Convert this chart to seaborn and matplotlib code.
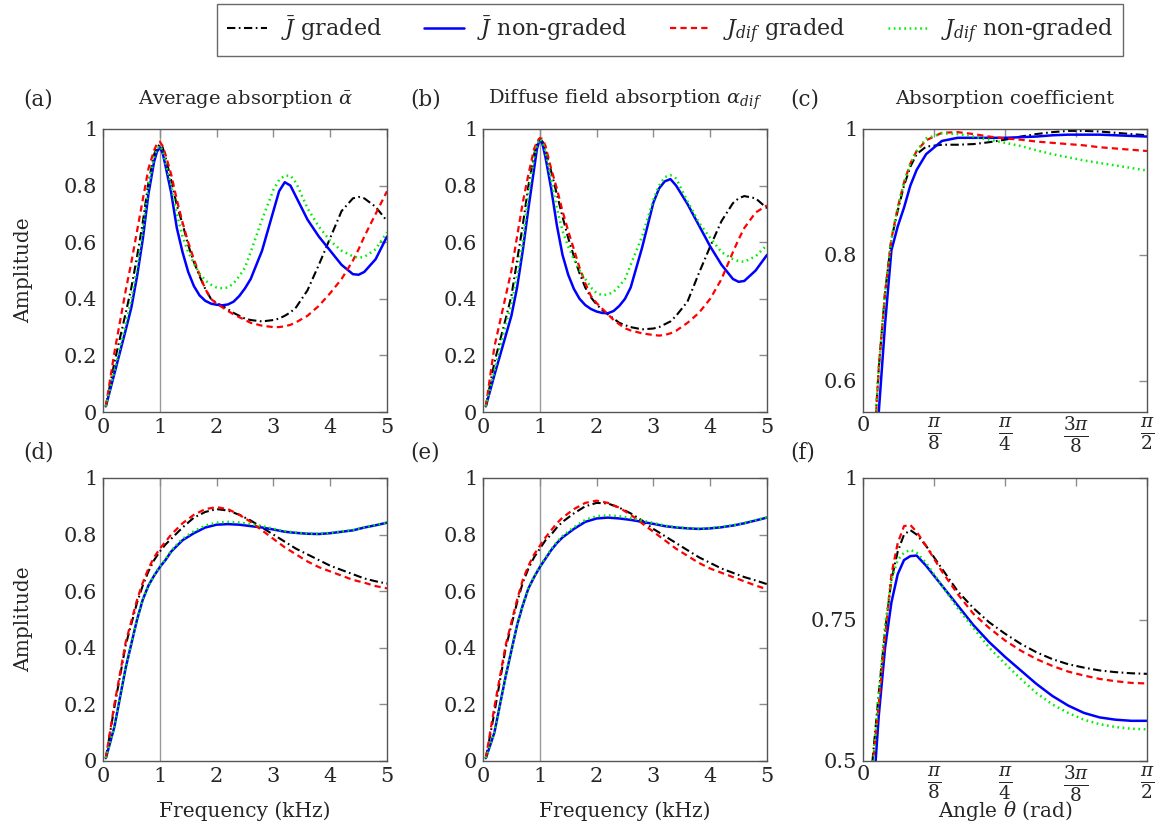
import matplotlib
matplotlib.use("Agg")
import matplotlib.pyplot as plt
import numpy as np
import seaborn as sns

# frequency grid (kHz) for panels a, b (denser around the resonances)
freq_ab = [0.05, 0.2, 0.4, 0.5, 0.6, 0.7, 0.8, 0.9, 0.95, 1.0, 1.05, 1.1, 1.2, 1.3, 1.4, 1.5, 1.6, 1.7, 1.8, 1.9, 2.0,
           2.1, 2.2, 2.3, 2.4, 2.5, 2.6, 2.8, 3.0, 3.1, 3.2, 3.3, 3.4, 3.6, 3.8, 4.0, 4.2, 4.4, 4.5, 4.6, 4.8, 5.0]

# (a) average absorption
a_jbar_graded = [0.02, 0.175, 0.35, 0.44, 0.55, 0.67, 0.81, 0.91, 0.935, 0.945, 0.935, 0.90, 0.82, 0.73, 0.665, 0.59,
                 0.53, 0.48, 0.435, 0.40, 0.385, 0.375, 0.363, 0.35, 0.34, 0.33, 0.325, 0.32, 0.325, 0.33, 0.34, 0.352,
                 0.37, 0.43, 0.52, 0.615, 0.71, 0.755, 0.76, 0.755, 0.725, 0.675]
a_jbar_nongraded = [0.02, 0.135, 0.29, 0.37, 0.48, 0.61, 0.77, 0.885, 0.92, 0.935, 0.915, 0.87, 0.775, 0.65, 0.565, 0.495,
                    0.445, 0.412, 0.393, 0.383, 0.379, 0.377, 0.38, 0.39, 0.41, 0.437, 0.47, 0.57, 0.71, 0.78, 0.812, 0.80,
                    0.76, 0.68, 0.62, 0.57, 0.52, 0.487, 0.485, 0.495, 0.54, 0.62]
a_jdif_graded = [0.02, 0.21, 0.43, 0.53, 0.64, 0.75, 0.86, 0.925, 0.948, 0.955, 0.94, 0.91, 0.84, 0.75, 0.67, 0.60,
                 0.54, 0.485, 0.435, 0.40, 0.383, 0.37, 0.357, 0.345, 0.335, 0.325, 0.315, 0.305, 0.30, 0.30, 0.303, 0.308,
                 0.317, 0.34, 0.375, 0.42, 0.47, 0.535, 0.575, 0.62, 0.70, 0.78]
a_jdif_nongraded = [0.02, 0.145, 0.31, 0.40, 0.51, 0.64, 0.795, 0.90, 0.93, 0.94, 0.925, 0.88, 0.80, 0.70, 0.62, 0.565,
                    0.525, 0.49, 0.465, 0.45, 0.44, 0.437, 0.44, 0.455, 0.48, 0.51, 0.565, 0.68, 0.785, 0.82, 0.835, 0.835,
                    0.81, 0.72, 0.655, 0.605, 0.57, 0.55, 0.545, 0.548, 0.575, 0.635]

# (b) diffuse field absorption
b_jbar_graded = [0.02, 0.175, 0.33, 0.41, 0.535, 0.66, 0.80, 0.91, 0.95, 0.965, 0.955, 0.93, 0.85, 0.77, 0.69, 0.615,
                 0.55, 0.49, 0.44, 0.405, 0.38, 0.36, 0.345, 0.33, 0.315, 0.307, 0.30, 0.292, 0.295, 0.30, 0.31, 0.32,
                 0.34, 0.39, 0.49, 0.585, 0.675, 0.738, 0.755, 0.763, 0.755, 0.72]
b_jbar_nongraded = [0.02, 0.13, 0.27, 0.34, 0.44, 0.57, 0.72, 0.86, 0.93, 0.965, 0.945, 0.90, 0.79, 0.66, 0.555, 0.485,
                    0.435, 0.40, 0.378, 0.364, 0.355, 0.35, 0.349, 0.357, 0.375, 0.40, 0.44, 0.58, 0.74, 0.79, 0.815, 0.823,
                    0.80, 0.735, 0.66, 0.585, 0.52, 0.47, 0.46, 0.463, 0.50, 0.555]
b_jdif_graded = [0.02, 0.23, 0.41, 0.50, 0.62, 0.74, 0.84, 0.93, 0.955, 0.968, 0.965, 0.94, 0.86, 0.79, 0.71, 0.64,
                 0.575, 0.51, 0.455, 0.41, 0.385, 0.365, 0.345, 0.325, 0.31, 0.296, 0.288, 0.278, 0.272, 0.27, 0.272, 0.278,
                 0.287, 0.315, 0.35, 0.40, 0.47, 0.565, 0.61, 0.65, 0.705, 0.73]
b_jdif_nongraded = [0.02, 0.145, 0.31, 0.38, 0.48, 0.60, 0.77, 0.90, 0.945, 0.965, 0.955, 0.92, 0.82, 0.72, 0.64, 0.585,
                    0.54, 0.50, 0.47, 0.44, 0.42, 0.413, 0.415, 0.425, 0.445, 0.47, 0.52, 0.62, 0.75, 0.80, 0.83, 0.837,
                    0.825, 0.745, 0.67, 0.615, 0.565, 0.54, 0.533, 0.531, 0.55, 0.59]

# frequency grid (kHz) for panels d, e
freq_de = [0.05, 0.2, 0.4, 0.6, 0.7, 0.8, 0.9, 1.0, 1.1, 1.2, 1.3, 1.4, 1.6, 1.8, 2.0,
           2.2, 2.4, 2.6, 2.8, 3.0, 3.2, 3.4, 3.6, 3.8, 4.0, 4.2, 4.4, 4.6, 4.8, 5.0]

# (d) average absorption, second configuration
d_jbar_graded = [0.01, 0.19, 0.41, 0.56, 0.62, 0.67, 0.71, 0.74, 0.765, 0.785, 0.805, 0.825, 0.86, 0.88, 0.89,
                 0.885, 0.87, 0.85, 0.825, 0.80, 0.775, 0.75, 0.73, 0.71, 0.69, 0.675, 0.66, 0.645, 0.635, 0.627]
d_jbar_nongraded = [0.01, 0.12, 0.33, 0.50, 0.57, 0.62, 0.655, 0.685, 0.71, 0.74, 0.76, 0.78, 0.805, 0.825, 0.835,
                    0.837, 0.835, 0.83, 0.825, 0.818, 0.81, 0.806, 0.803, 0.802, 0.805, 0.81, 0.815, 0.825, 0.833, 0.842]
d_jdif_graded = [0.01, 0.20, 0.42, 0.57, 0.63, 0.68, 0.72, 0.75, 0.775, 0.80, 0.82, 0.84, 0.87, 0.89, 0.897,
                 0.89, 0.87, 0.845, 0.815, 0.785, 0.755, 0.73, 0.705, 0.685, 0.67, 0.655, 0.64, 0.63, 0.618, 0.61]
d_jdif_nongraded = [0.01, 0.12, 0.33, 0.50, 0.57, 0.62, 0.657, 0.687, 0.713, 0.743, 0.765, 0.785, 0.812, 0.832, 0.842,
                    0.845, 0.843, 0.837, 0.83, 0.821, 0.812, 0.807, 0.804, 0.803, 0.806, 0.811, 0.816, 0.826, 0.834, 0.843]

# (e) diffuse field absorption, second configuration
e_jbar_graded = [0.01, 0.17, 0.40, 0.56, 0.63, 0.68, 0.72, 0.75, 0.78, 0.80, 0.825, 0.845, 0.875, 0.90, 0.912,
                 0.91, 0.895, 0.875, 0.85, 0.82, 0.795, 0.77, 0.745, 0.72, 0.70, 0.68, 0.665, 0.65, 0.638, 0.625]
e_jbar_nongraded = [0.01, 0.10, 0.30, 0.48, 0.55, 0.61, 0.65, 0.685, 0.715, 0.745, 0.77, 0.79, 0.82, 0.845, 0.857,
                    0.86, 0.857, 0.852, 0.845, 0.838, 0.83, 0.825, 0.822, 0.82, 0.822, 0.826, 0.832, 0.84, 0.85, 0.86]
e_jdif_graded = [0.01, 0.19, 0.41, 0.57, 0.64, 0.69, 0.73, 0.76, 0.79, 0.815, 0.84, 0.86, 0.89, 0.912, 0.92,
                 0.912, 0.895, 0.87, 0.84, 0.81, 0.78, 0.75, 0.725, 0.70, 0.68, 0.665, 0.65, 0.635, 0.62, 0.607]
e_jdif_nongraded = [0.01, 0.10, 0.30, 0.48, 0.55, 0.61, 0.652, 0.688, 0.718, 0.748, 0.774, 0.795, 0.826, 0.852, 0.865,
                    0.868, 0.865, 0.858, 0.85, 0.841, 0.832, 0.826, 0.823, 0.821, 0.823, 0.827, 0.833, 0.841, 0.851, 0.861]

# angle grid (degrees) shared by panels c, f
angle_deg = [3, 5, 7, 9, 11, 13, 15, 17, 20, 25, 30, 35, 40, 45, 50, 55, 60, 65, 70, 75, 80, 85, 90]

# (c) absorption coefficient
c_jbar_graded = [0.46, 0.62, 0.74, 0.825, 0.87, 0.91, 0.94, 0.96, 0.972, 0.975, 0.975, 0.976, 0.979, 0.983,
                 0.988, 0.992, 0.995, 0.997, 0.997, 0.996, 0.994, 0.992, 0.99]
c_jbar_nongraded = [0.40, 0.55, 0.69, 0.807, 0.845, 0.875, 0.91, 0.935, 0.96, 0.981, 0.986, 0.986, 0.986, 0.986,
                    0.987, 0.988, 0.99, 0.991, 0.991, 0.991, 0.99, 0.989, 0.988]
c_jdif_graded = [0.45, 0.62, 0.74, 0.825, 0.875, 0.915, 0.945, 0.965, 0.982, 0.994, 0.995, 0.992, 0.988, 0.985,
                 0.983, 0.98, 0.978, 0.976, 0.974, 0.971, 0.969, 0.967, 0.965]
c_jdif_nongraded = [0.46, 0.62, 0.74, 0.825, 0.875, 0.915, 0.945, 0.965, 0.985, 0.993, 0.992, 0.988, 0.983, 0.978,
                    0.973, 0.966, 0.96, 0.955, 0.95, 0.946, 0.942, 0.938, 0.934]

# (f) absorption coefficient, second configuration
f_jbar_graded = [0.50, 0.62, 0.73, 0.82, 0.87, 0.90, 0.908, 0.90, 0.88, 0.84, 0.80, 0.77, 0.745, 0.725,
                 0.707, 0.692, 0.68, 0.671, 0.665, 0.66, 0.657, 0.655, 0.654]
f_jbar_nongraded = [0.42, 0.58, 0.70, 0.78, 0.83, 0.855, 0.862, 0.863, 0.845, 0.81, 0.775, 0.74, 0.71, 0.684,
                    0.66, 0.636, 0.615, 0.598, 0.585, 0.577, 0.573, 0.571, 0.571]
f_jdif_graded = [0.49, 0.60, 0.72, 0.83, 0.885, 0.915, 0.917, 0.905, 0.88, 0.835, 0.795, 0.76, 0.735, 0.713,
                 0.695, 0.68, 0.668, 0.658, 0.651, 0.645, 0.641, 0.638, 0.637]
f_jdif_nongraded = [0.48, 0.62, 0.74, 0.82, 0.855, 0.868, 0.873, 0.868, 0.85, 0.81, 0.77, 0.735, 0.70, 0.672,
                    0.645, 0.62, 0.60, 0.585, 0.573, 0.565, 0.56, 0.557, 0.556]

series_labels = [r"$\bar{J}$ graded", r"$\bar{J}$ non-graded", r"$J_{dif}$ graded", r"$J_{dif}$ non-graded"]
series_colors = ["black", "#0000ff", "#ff0000", "#00ee00"]
series_styles = [(0, (6, 2.5, 1.2, 2.5)), "-", (0, (4.5, 3)), (0, (1.2, 2.6))]
series_widths = [1.5, 1.8, 1.6, 1.8]

sns.set_style("white")
plt.rcParams["font.family"] = ["DejaVu Serif"]
plt.rcParams["mathtext.fontset"] = "dejavuserif"
plt.rcParams["lines.scale_dashes"] = False
fs = 14

fig = plt.figure(figsize=(11.56, 8.25), dpi=100)

lefts = [103, 483, 863]
panels = [
    ("(a)", "Average absorption $\\bar{\\alpha}$", freq_ab, [a_jbar_graded, a_jbar_nongraded, a_jdif_graded, a_jdif_nongraded]),
    ("(b)", "Diffuse field absorption $\\alpha_{dif}$", freq_ab, [b_jbar_graded, b_jbar_nongraded, b_jdif_graded, b_jdif_nongraded]),
    ("(c)", "Absorption coefficient", angle_deg, [c_jbar_graded, c_jbar_nongraded, c_jdif_graded, c_jdif_nongraded]),
    ("(d)", None, freq_de, [d_jbar_graded, d_jbar_nongraded, d_jdif_graded, d_jdif_nongraded]),
    ("(e)", None, freq_de, [e_jbar_graded, e_jbar_nongraded, e_jdif_graded, e_jdif_nongraded]),
    ("(f)", None, angle_deg, [f_jbar_graded, f_jbar_nongraded, f_jdif_graded, f_jdif_nongraded]),
]

axes = []
for i, (tag, title, xs, ys) in enumerate(panels):
    row, col = divmod(i, 3)
    top_px = 129 if row == 0 else 478
    ax = fig.add_axes([lefts[col] / 1156, 1 - (top_px + 283) / 825, 284 / 1156, 283 / 825])
    axes.append(ax)
    is_angle = col == 2
    xvals = np.deg2rad(xs) if is_angle else np.array(xs)
    if not is_angle:
        ax.axvline(1, color="#9a9a9a", lw=1.0, zorder=0)
    for y, lab, c, ls, lw in zip(ys, series_labels, series_colors, series_styles, series_widths):
        sns.lineplot(x=xvals, y=y, ax=ax, color=c, linestyle=ls, lw=lw, label=lab, legend=False)
    ax.tick_params(direction="in", length=6, width=1, color="#8c8c8c", labelsize=fs + 1,
                   top=True, right=True, pad=4)
    if is_angle:
        ax.set_xlim(0, np.pi / 2)
        ax.set_xticks([0, np.pi / 8, np.pi / 4, 3 * np.pi / 8, np.pi / 2])
        ax.set_xticklabels(["0", r"$\frac{\pi}{8}$", r"$\frac{\pi}{4}$", r"$\frac{3\pi}{8}$", r"$\frac{\pi}{2}$"])
        for t in ax.get_xticklabels()[1:]:
            t.set_fontsize(19)
        ax.tick_params(axis="x", pad=3)
        if row == 0:
            ax.set_ylim(0.55, 1)
            ax.set_yticks([0.6, 0.8, 1.0])
            ax.set_yticklabels(["0.6", "0.8", "1"])
        else:
            ax.set_ylim(0.5, 1)
            ax.set_yticks([0.5, 0.75, 1.0])
            ax.set_yticklabels(["0.5", "0.75", "1"])
    else:
        ax.set_xlim(0, 5)
        ax.set_ylim(0, 1)
        ax.set_xticks([0, 1, 2, 3, 4, 5])
        ax.set_yticks([0, 0.2, 0.4, 0.6, 0.8, 1.0])
        ax.set_yticklabels(["0", "0.2", "0.4", "0.6", "0.8", "1"])
    for sp in ax.spines.values():
        sp.set_color("#555555")
        sp.set_linewidth(1.0)
    if title:
        ax.set_title(title, fontsize=fs, pad=18)
    label_x = -80 / 284 if col == 0 else -73 / 284
    ax.text(label_x, 1.065 if row == 0 else 1.05, tag, transform=ax.transAxes, fontsize=fs + 1.5,
            va="bottom", ha="left")
    if col == 0:
        ax.set_ylabel("Amplitude", fontsize=fs + 0.5)
        ax.yaxis.set_label_coords(-70 / 284, 0.5)
    if row == 1:
        ax.set_xlabel("Angle $\\theta$ (rad)" if is_angle else "Frequency (kHz)", fontsize=fs + 0.5)
        ax.xaxis.set_label_coords(0.5, -50 / 283)
        ax.xaxis.label.set_va("center")

handles, labels = axes[0].get_legend_handles_labels()
leg = fig.legend(handles, labels, loc="center", bbox_to_anchor=(670 / 1156, 1 - 30 / 825), ncol=4,
                 fontsize=fs + 2, frameon=True, fancybox=False, edgecolor="#444444",
                 handlelength=1.8, columnspacing=1.9, handletextpad=0.6, borderpad=0.45)
leg.get_frame().set_linewidth(1.0)

fig.savefig("out.png", dpi=100)
